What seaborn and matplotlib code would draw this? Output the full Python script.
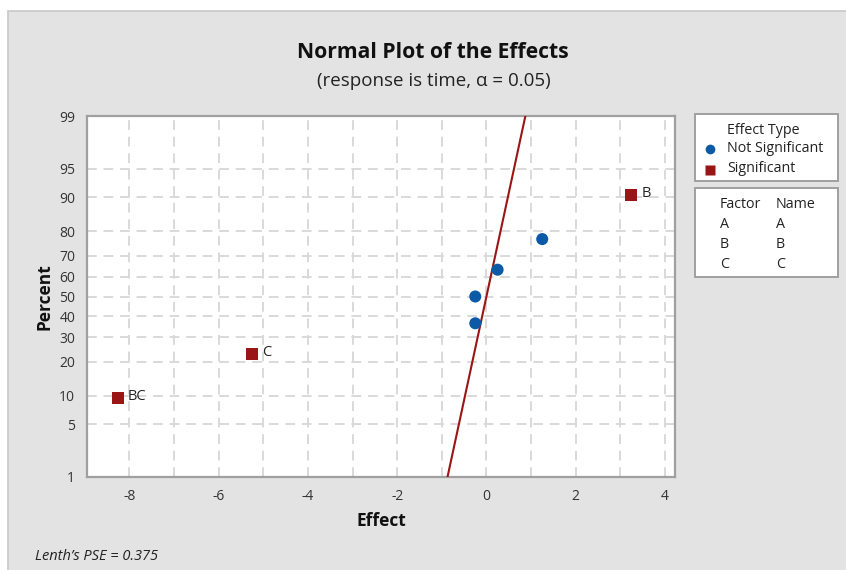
import numpy as np
import pandas as pd
import matplotlib
matplotlib.use("Agg")
import matplotlib.pyplot as plt
from matplotlib.patches import Rectangle
from matplotlib.lines import Line2D
from matplotlib.ticker import FixedLocator, MultipleLocator
from statistics import NormalDist
import seaborn as sns

# ---- data -------------------------------------------------------------
terms = ["BC", "C", "AC", "A", "ABC", "AB", "B"]
effects = [-8.25, -5.25, -0.25, -0.25, 0.25, 1.25, 3.25]
percents = [9.46, 22.97, 36.49, 50.0, 63.51, 77.03, 90.54]
effect_type = ["Significant", "Significant", "Not Significant", "Not Significant",
               "Not Significant", "Not Significant", "Significant"]
labelled = ["BC", "C", "B"]
pse = 0.375
percent_ticks = [1, 5, 10, 20, 30, 40, 50, 60, 70, 80, 90, 95, 99]
effect_ticks = [-8, -6, -4, -2, 0, 2, 4]
factors = ["A", "B", "C"]
names = ["A", "B", "C"]

df = pd.DataFrame({"Term": terms, "Effect": effects, "Percent": percents,
                   "Effect Type": effect_type})

# reference line: effect = PSE * z(percent)
line_pct = [1, 99]
line_df = pd.DataFrame({"Percent": line_pct,
                        "Effect": [pse * NormalDist().inv_cdf(p / 100) for p in line_pct]})

# ---- style ------------------------------------------------------------
sns.set_style("white")
plt.rcParams["font.family"] = ["Open Sans", "DejaVu Sans"]

W, H = 846, 570
fig = plt.figure(figsize=(W / 100, H / 100), dpi=100)
fig.patch.set_facecolor("white")


def fx(x):
    return x / W


def fy(y):
    return 1 - y / H


# grey panel behind everything
fig.patches.append(Rectangle((fx(8), -0.01), 1.0, fy(11) + 0.01, transform=fig.transFigure,
                             facecolor="#e3e3e3", edgecolor="#c8c8c8", lw=1.2, zorder=-10))

ax = fig.add_axes([fx(87), fy(477), fx(675) - fx(87), fy(116) - fy(477)])
ax.set_facecolor("white")

# normal probability scale on y
_nd = NormalDist()
_inv = np.vectorize(lambda v: _nd.inv_cdf(v / 100.0), otypes=[float])
_cdf = np.vectorize(lambda v: _nd.cdf(v) * 100.0, otypes=[float])


def to_z(p):
    p = np.clip(np.asarray(p, dtype=float), 1e-6, 100 - 1e-6)
    return _inv(p)


def to_p(z):
    return _cdf(np.asarray(z, dtype=float))


ax.set_yscale("function", functions=(to_z, to_p))

blue = "#0a5aa8"
red = "#9a1515"

sns.lineplot(data=line_df, x="Effect", y="Percent", ax=ax, color=red, lw=1.5,
             zorder=3, legend=False)
sns.scatterplot(data=df, x="Effect", y="Percent", hue="Effect Type", style="Effect Type",
                hue_order=["Not Significant", "Significant"],
                palette={"Not Significant": blue, "Significant": red},
                markers={"Not Significant": "o", "Significant": "s"},
                s=75, edgecolor="none", ax=ax, zorder=4, legend=False)

for t, x, p in zip(terms, effects, percents):
    if t in labelled:
        ax.annotate(t, (x, p), xytext=(7, 1), textcoords="offset points",
                    va="center", ha="left", fontsize=10.5, color="#222222")

ax.set_xlim(-8.95, 4.225)
ax.set_ylim(1, 99)
ax.xaxis.set_major_locator(FixedLocator(effect_ticks))
ax.xaxis.set_minor_locator(MultipleLocator(1))
ax.yaxis.set_major_locator(FixedLocator(percent_ticks))
ax.yaxis.set_minor_locator(FixedLocator([]))
ax.set_yticklabels([str(v) for v in percent_ticks])
ax.set_xticklabels([str(v) for v in effect_ticks])

grid_kw = dict(color="#d9d9d9", lw=1.4, ls=(0, (5, 3.5)))
ax.grid(True, which="major", axis="both", **grid_kw)
ax.grid(True, which="minor", axis="x", **grid_kw)
ax.set_axisbelow(True)

for s in ax.spines.values():
    s.set_color("#a0a0a0")
    s.set_linewidth(1.6)
ax.tick_params(axis="both", which="both", direction="out", color="#a0a0a0",
               labelcolor="#333333", labelsize=10)
ax.tick_params(axis="both", which="major", length=5, width=1.2)
ax.tick_params(axis="x", which="minor", length=3, width=1.0)

ax.set_xlabel("Effect", fontsize=12.5, fontweight="bold", color="#111111", labelpad=6)
ax.set_ylabel("Percent", fontsize=12.5, fontweight="bold", color="#111111", labelpad=4)

# titles
fig.text(fx(433), fy(53), "Normal Plot of the Effects", ha="center", va="center",
         fontsize=15.2, fontweight="bold", color="#111111")
fig.text(fx(434), fy(81), "(response is time, \u03b1 = 0.05)", ha="center", va="center",
         fontsize=13.5, color="#222222")

# legend: effect type
fs_leg = 10.3
fig.patches.append(Rectangle((fx(695), fy(181)), fx(838) - fx(695), fy(114) - fy(181),
                             transform=fig.transFigure, facecolor="white",
                             edgecolor="#a0a0a0", lw=1.4))
fig.text(fx(727), fy(130), "Effect Type", ha="left", va="center", fontsize=fs_leg, color="#222222")
fig.text(fx(727), fy(149), "Not Significant", ha="left", va="center", fontsize=fs_leg, color="#222222")
fig.text(fx(727), fy(169), "Significant", ha="left", va="center", fontsize=fs_leg, color="#222222")
fig.add_artist(Line2D([fx(710)], [fy(149)], marker="o", ms=7, color=blue, mec="none",
                      transform=fig.transFigure))
fig.add_artist(Line2D([fx(710)], [fy(170)], marker="s", ms=6.5, color=red, mec="none",
                      transform=fig.transFigure))

# legend: factor names
fig.patches.append(Rectangle((fx(695), fy(277)), fx(838) - fx(695), fy(188) - fy(277),
                             transform=fig.transFigure, facecolor="white",
                             edgecolor="#a0a0a0", lw=1.4))
fig.text(fx(720), fy(204), "Factor", ha="left", va="center", fontsize=fs_leg, color="#222222")
fig.text(fx(776), fy(204), "Name", ha="left", va="center", fontsize=fs_leg, color="#222222")
for i, (f, n) in enumerate(zip(factors, names)):
    yy = 224 + i * 20
    fig.text(fx(720), fy(yy), f, ha="left", va="center", fontsize=fs_leg, color="#222222")
    fig.text(fx(776), fy(yy), n, ha="left", va="center", fontsize=fs_leg, color="#222222")

fig.text(fx(35), fy(556), f"Lenth\u2019s PSE = {pse}", ha="left", va="center",
         fontsize=10.5, fontstyle="italic", color="#222222")

fig.savefig("out.png", dpi=100, facecolor=fig.get_facecolor())
